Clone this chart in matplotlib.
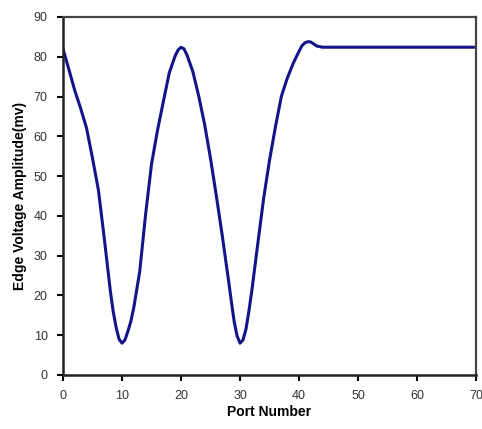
import matplotlib
matplotlib.use("Agg")
import matplotlib.pyplot as plt

# Port numbers and edge voltage amplitude (mV)
# (extra half-port readings where the curve bends sharply)
ports = [
    0, 1, 2, 3, 4, 5, 6, 7, 8, 8.5, 9, 9.5, 10, 10.5, 11, 11.5, 12,
    13, 14, 15, 16, 17, 18, 19, 19.5, 20, 20.5, 21, 22, 23, 24, 25, 26,
    27, 28, 28.5, 29, 29.5, 30, 30.5, 31, 31.5, 32, 33, 34, 35, 36, 37,
    38, 39, 40, 40.5, 41, 41.5, 42, 42.5, 43, 44, 50, 60, 70,
]
amplitude = [
    82.0, 76.8, 71.5, 67.0, 62.0, 54.5, 46.5, 34.3, 21.4, 16.0, 12.0, 9.0, 8.0, 8.8, 11.0, 13.5, 17.0,
    26.0, 40.4, 53.0, 61.4, 68.7, 75.9, 80.2, 81.7, 82.4, 82.0, 80.5, 76.3, 70.1, 63.0, 54.4, 44.9,
    34.9, 24.3, 18.8, 13.5, 9.8, 8.0, 8.8, 11.5, 16.0, 21.2, 32.9, 44.4, 54.0, 62.4, 70.0,
    74.6, 78.3, 81.4, 82.8, 83.5, 83.8, 83.7, 83.2, 82.7, 82.4, 82.4, 82.4, 82.4,
]

x_ticks = [0, 10, 20, 30, 40, 50, 60, 70]
y_ticks = [0, 10, 20, 30, 40, 50, 60, 70, 80, 90]

plt.rcParams["font.family"] = ["Liberation Sans", "DejaVu Sans"]

fig = plt.figure(figsize=(4.82, 4.29), dpi=100)
ax = fig.add_axes([0.1307, 0.1259, 0.857, 0.8345])

ax.plot(ports, amplitude, color="#14148a", linewidth=2.2,
        solid_joinstyle="round", solid_capstyle="round")

ax.set_xlim(0, 70)
ax.set_ylim(0, 90)
ax.set_xticks(x_ticks)
ax.set_yticks(y_ticks)
ax.tick_params(direction="out", length=4, width=1.5, labelsize=9,
               colors="black", labelcolor="#333333", pad=7)

for side in ["left", "bottom"]:
    ax.spines[side].set_linewidth(1.8)
    ax.spines[side].set_color("#222222")
for side in ["top", "right"]:
    ax.spines[side].set_linewidth(1.6)
    ax.spines[side].set_color("#444444")

ax.set_xlabel("Port Number", fontsize=10, fontweight="bold", labelpad=2)
ax.set_ylabel("Edge Voltage Amplitude(mv)", fontsize=10, fontweight="bold", labelpad=5)

fig.savefig("out.png", dpi=100)
plt.close(fig)
